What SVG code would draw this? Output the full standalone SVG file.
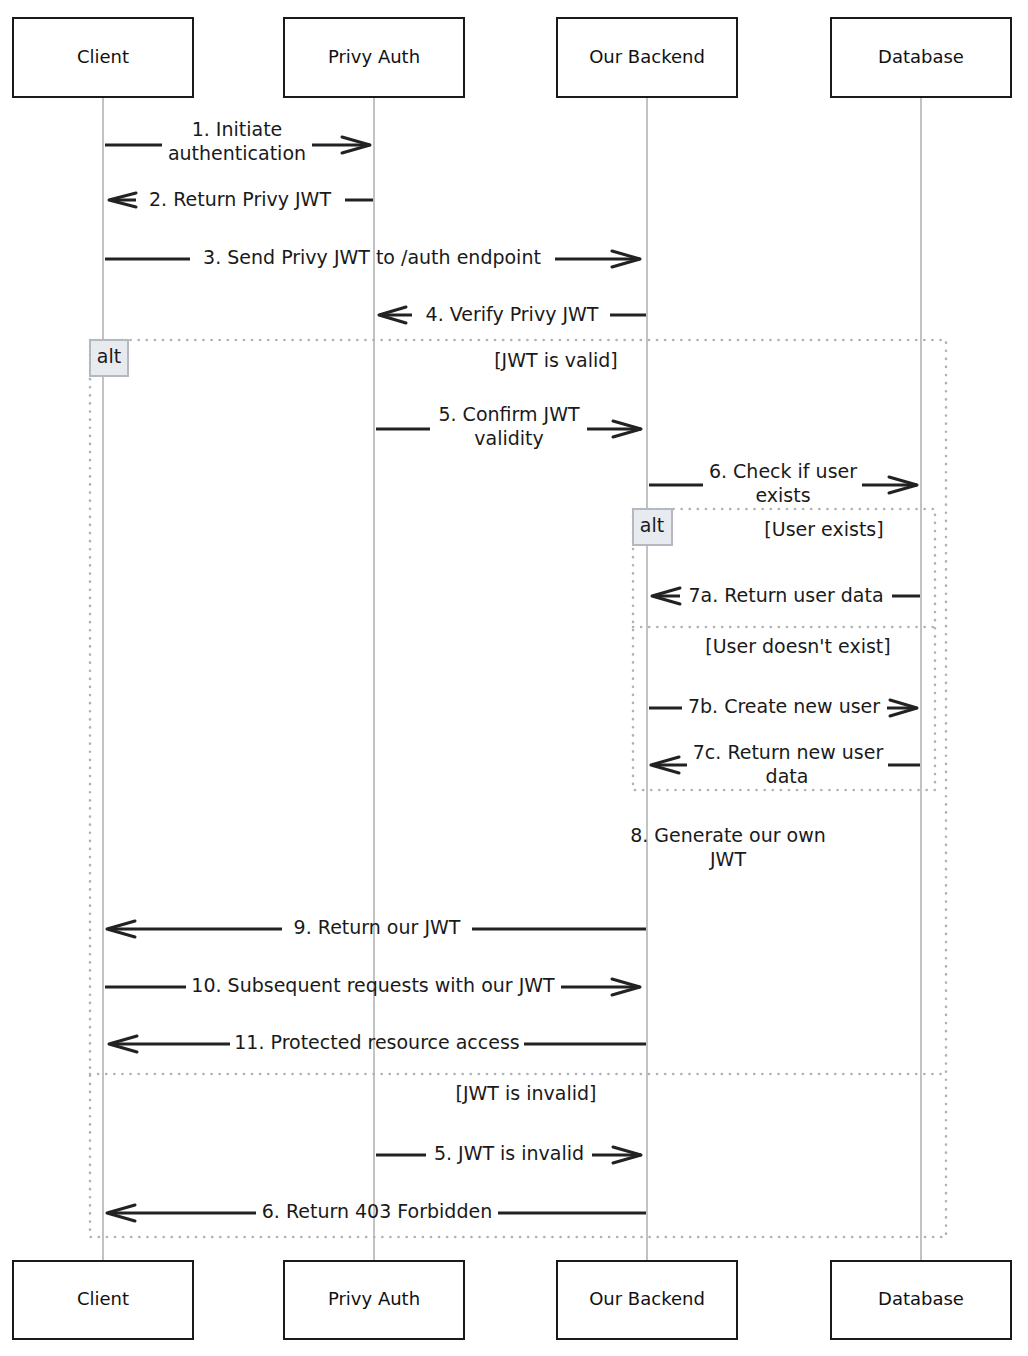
<svg xmlns="http://www.w3.org/2000/svg" width="1028" height="1356" viewBox="0 0 1028 1356">
<style>
.bg{fill:#fff}
.actor rect{fill:#fff;stroke:#1a1a1a;stroke-width:2}
.actor text{font-family:"DejaVu Sans","Liberation Sans",sans-serif;font-size:18px;fill:#111;text-anchor:middle;dominant-baseline:middle}
.life{stroke:#9a9a9a;stroke-width:1.2}
.frame{fill:none;stroke:#adb1b8;stroke-width:2.6;stroke-dasharray:0.1 8;stroke-linecap:round}
.tag rect{fill:#e7ebf0;stroke:#b4b8bf;stroke-width:2}
.lbl{font-family:"DejaVu Sans","Liberation Sans",sans-serif;font-size:19px;fill:#1a1a1a;text-anchor:middle;dominant-baseline:middle}
.msg line{stroke:#222;stroke-width:3}
.msg polyline{fill:none;stroke:#222;stroke-width:3;stroke-linecap:round;stroke-linejoin:round}
</style>
<rect class="bg" x="0" y="0" width="1028" height="1356"/>

<g id="lifelines">
<line class="life" x1="103" y1="97" x2="103" y2="1261"/>
<line class="life" x1="374" y1="97" x2="374" y2="1261"/>
<line class="life" x1="647" y1="97" x2="647" y2="1261"/>
<line class="life" x1="921" y1="97" x2="921" y2="1261"/>
</g>

<g id="actors-top">
<g id="client-top" class="actor"><rect x="13" y="18" width="180" height="79"/><text x="103" y="58">Client</text></g>
<g id="privy-top" class="actor"><rect x="284" y="18" width="180" height="79"/><text x="374" y="58">Privy Auth</text></g>
<g id="backend-top" class="actor"><rect x="557" y="18" width="180" height="79"/><text x="647" y="58">Our Backend</text></g>
<g id="db-top" class="actor"><rect x="831" y="18" width="180" height="79"/><text x="921" y="58">Database</text></g>
</g>

<g id="actors-bottom">
<g id="client-bottom" class="actor"><rect x="13" y="1261" width="180" height="78"/><text x="103" y="1300">Client</text></g>
<g id="privy-bottom" class="actor"><rect x="284" y="1261" width="180" height="78"/><text x="374" y="1300">Privy Auth</text></g>
<g id="backend-bottom" class="actor"><rect x="557" y="1261" width="180" height="78"/><text x="647" y="1300">Our Backend</text></g>
<g id="db-bottom" class="actor"><rect x="831" y="1261" width="180" height="78"/><text x="921" y="1300">Database</text></g>
</g>

<g id="frames">
<g id="alt-outer">
<rect class="frame" x="90" y="340" width="856" height="897"/>
<line class="frame" x1="90" y1="1074" x2="946" y2="1074"/>
<g class="tag"><rect x="90" y="340" width="38" height="36"/><text class="lbl" x="109" y="357">alt</text></g>
<text class="lbl" x="556" y="361">[JWT is valid]</text>
<text class="lbl" x="526" y="1094">[JWT is invalid]</text>
</g>
<g id="alt-inner">
<rect class="frame" x="633" y="509" width="302" height="281"/>
<line class="frame" x1="633" y1="627" x2="935" y2="627"/>
<g class="tag"><rect x="633" y="509" width="39" height="36"/><text class="lbl" x="652" y="526">alt</text></g>
<text class="lbl" x="824" y="530">[User exists]</text>
<text class="lbl" x="798" y="647">[User doesn't exist]</text>
</g>
</g>

<g id="connectors" class="msg">
<line x1="105" y1="145" x2="162" y2="145"/><line x1="312" y1="145" x2="370" y2="145"/>
<polyline points="342,137 370,145 342,153"/>
<line x1="110" y1="200" x2="136" y2="200"/><line x1="345" y1="200" x2="373" y2="200"/>
<polyline points="136,193 109,200 136,207"/>
<line x1="105" y1="259" x2="190" y2="259"/><line x1="555" y1="259" x2="640" y2="259"/>
<polyline points="612,251 640,259 612,267"/>
<line x1="380" y1="315" x2="412" y2="315"/><line x1="610" y1="315" x2="646" y2="315"/>
<polyline points="406,307 379,315 406,323"/>
<line x1="376" y1="429" x2="430" y2="429"/><line x1="587" y1="429" x2="641" y2="429"/>
<polyline points="613,421 641,429 613,437"/>
<line x1="649" y1="485" x2="703" y2="485"/><line x1="862" y1="485" x2="917" y2="485"/>
<polyline points="889,477 917,485 889,493"/>
<line x1="653" y1="596" x2="680" y2="596"/><line x1="892" y1="596" x2="920" y2="596"/>
<polyline points="680,588 652,596 680,604"/>
<line x1="649" y1="708" x2="682" y2="708"/><line x1="887" y1="708" x2="917" y2="708"/>
<polyline points="890,700 917,708 890,716"/>
<line x1="653" y1="765" x2="687" y2="765"/><line x1="888" y1="765" x2="920" y2="765"/>
<polyline points="679,757 651,765 679,773"/>
<line x1="109" y1="929" x2="282" y2="929"/><line x1="472" y1="929" x2="646" y2="929"/>
<polyline points="135,921 107,929 135,937"/>
<line x1="105" y1="987" x2="186" y2="987"/><line x1="561" y1="987" x2="640" y2="987"/>
<polyline points="612,979 640,987 612,995"/>
<line x1="111" y1="1044" x2="230" y2="1044"/><line x1="524" y1="1044" x2="646" y2="1044"/>
<polyline points="137,1036 109,1044 137,1052"/>
<line x1="376" y1="1155" x2="426" y2="1155"/><line x1="592" y1="1155" x2="641" y2="1155"/>
<polyline points="613,1147 641,1155 613,1163"/>
<line x1="109" y1="1213" x2="256" y2="1213"/><line x1="498" y1="1213" x2="646" y2="1213"/>
<polyline points="135,1205 107,1213 135,1221"/>
</g>

<g id="labels">
<text class="lbl" x="237" y="130">1. Initiate</text>
<text class="lbl" x="237" y="154">authentication</text>
<text class="lbl" x="240" y="200">2. Return Privy JWT</text>
<text class="lbl" x="372" y="258">3. Send Privy JWT to /auth endpoint</text>
<text class="lbl" x="512" y="315">4. Verify Privy JWT</text>
<text class="lbl" x="509" y="415">5. Confirm JWT</text>
<text class="lbl" x="509" y="439">validity</text>
<text class="lbl" x="783" y="472">6. Check if user</text>
<text class="lbl" x="783" y="496">exists</text>
<text class="lbl" x="786" y="596">7a. Return user data</text>
<text class="lbl" x="784" y="707">7b. Create new user</text>
<text class="lbl" x="788" y="753">7c. Return new user</text>
<text class="lbl" x="787" y="777">data</text>
<text class="lbl" x="728" y="836">8. Generate our own</text>
<text class="lbl" x="728" y="860">JWT</text>
<text class="lbl" x="377" y="928">9. Return our JWT</text>
<text class="lbl" x="373" y="986">10. Subsequent requests with our JWT</text>
<text class="lbl" x="377" y="1043">11. Protected resource access</text>
<text class="lbl" x="509" y="1154">5. JWT is invalid</text>
<text class="lbl" x="377" y="1212">6. Return 403 Forbidden</text>
</g>
</svg>
